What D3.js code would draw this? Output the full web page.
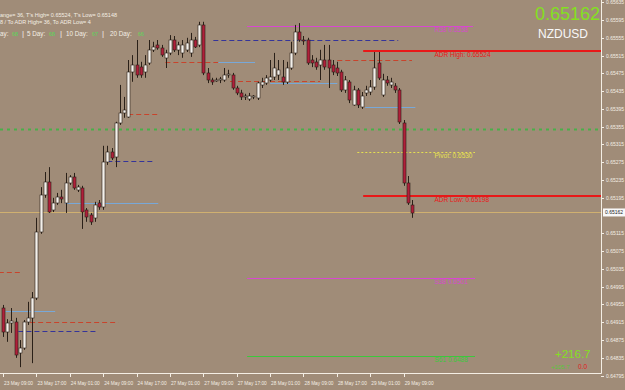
<!DOCTYPE html>
<meta charset="utf-8">
<style>
body { margin:0; background:#a08c78; overflow:hidden; }
svg text { font-family: "Liberation Sans", Arial, sans-serif; }
</style>
<body>
<svg width="625" height="390"></svg>
<script src="https://d3js.org/d3.v7.min.js"></script>
<script>

// hourly candles, 23 May 09:00 -> 29 May 11:00
var openP = [0.64947,0.64893,0.64913,0.64916,0.64846,0.64857,0.64916,0.64925,0.64970,0.65118,
 0.65201,0.65231,0.65168,0.65183,0.65197,0.65183,0.65228,0.65242,0.65213,0.65217,
 0.65168,0.65156,0.65150,0.65183,0.65174,0.65276,0.65298,0.65287,0.65363,0.65386,
 0.65377,0.65478,0.65494,0.65489,0.65478,0.65498,0.65528,0.65539,0.65532,0.65510,
 0.65521,0.65550,0.65528,0.65521,0.65528,0.65521,0.65550,0.65539,0.65584,0.65476,
 0.65460,0.65458,0.65460,0.65460,0.65471,0.65471,0.65442,0.65431,0.65422,0.65417,
 0.65422,0.65420,0.65449,0.65453,0.65460,0.65467,0.65471,0.65467,0.65456,0.65487,
 0.65521,0.65568,0.65550,0.65550,0.65505,0.65501,0.65494,0.65505,0.65505,0.65494,
 0.65487,0.65478,0.65438,0.65456,0.65404,0.65438,0.65399,0.65431,0.65433,0.65444,
 0.65498,0.65426,0.65460,0.65449,0.65447,0.65438,0.65363,0.65228,0.65179];
var highP = [0.64954,0.64922,0.64947,0.64925,0.64875,0.64920,0.64961,0.64983,0.65150,0.65219,
 0.65253,0.65264,0.65195,0.65206,0.65213,0.65251,0.65246,0.65251,0.65224,0.65222,
 0.65172,0.65161,0.65186,0.65190,0.65312,0.65312,0.65307,0.65366,0.65449,0.65422,
 0.65505,0.65516,0.65550,0.65501,0.65516,0.65550,0.65546,0.65550,0.65539,0.65528,
 0.65561,0.65559,0.65546,0.65550,0.65555,0.65566,0.65557,0.65591,0.65591,0.65487,
 0.65465,0.65465,0.65467,0.65487,0.65483,0.65476,0.65447,0.65438,0.65429,0.65431,
 0.65426,0.65456,0.65465,0.65471,0.65505,0.65521,0.65505,0.65505,0.65501,0.65546,
 0.65584,0.65588,0.65559,0.65555,0.65516,0.65510,0.65528,0.65539,0.65539,0.65505,
 0.65501,0.65483,0.65469,0.65460,0.65447,0.65442,0.65433,0.65447,0.65460,0.65523,
 0.65523,0.65474,0.65469,0.65465,0.65453,0.65442,0.65370,0.65244,0.65190];
var lowP = [0.64882,0.64871,0.64891,0.64835,0.64814,0.64853,0.64909,0.64823,0.64965,0.65114,
 0.65195,0.65161,0.65163,0.65179,0.65183,0.65161,0.65224,0.65213,0.65208,0.65125,
 0.65141,0.65134,0.65141,0.65168,0.65168,0.65269,0.65280,0.65264,0.65359,0.65375,
 0.65375,0.65456,0.65465,0.65465,0.65465,0.65494,0.65523,0.65528,0.65512,0.65487,
 0.65516,0.65523,0.65516,0.65510,0.65523,0.65512,0.65532,0.65534,0.65471,0.65453,
 0.65449,0.65456,0.65453,0.65456,0.65465,0.65438,0.65426,0.65415,0.65415,0.65413,
 0.65417,0.65415,0.65442,0.65449,0.65456,0.65460,0.65460,0.65449,0.65451,0.65483,
 0.65516,0.65546,0.65539,0.65494,0.65489,0.65483,0.65460,0.65483,0.65442,0.65471,
 0.65469,0.65433,0.65431,0.65408,0.65402,0.65397,0.65395,0.65424,0.65426,0.65438,
 0.65460,0.65422,0.65447,0.65442,0.65431,0.65361,0.65222,0.65179,0.65150];
var closeP = [0.64893,0.64913,0.64918,0.64841,0.64857,0.64916,0.64925,0.64970,0.65118,0.65201,
 0.65231,0.65163,0.65183,0.65197,0.65192,0.65228,0.65242,0.65217,0.65219,0.65163,
 0.65152,0.65141,0.65179,0.65174,0.65276,0.65298,0.65285,0.65363,0.65386,0.65393,
 0.65478,0.65494,0.65471,0.65471,0.65494,0.65528,0.65534,0.65532,0.65516,0.65521,
 0.65550,0.65528,0.65539,0.65539,0.65543,0.65550,0.65534,0.65584,0.65476,0.65460,
 0.65456,0.65460,0.65462,0.65471,0.65474,0.65442,0.65431,0.65422,0.65424,0.65424,
 0.65423,0.65453,0.65456,0.65465,0.65467,0.65487,0.65483,0.65456,0.65487,0.65521,
 0.65568,0.65550,0.65549,0.65498,0.65498,0.65489,0.65505,0.65489,0.65487,0.65478,
 0.65476,0.65438,0.65460,0.65415,0.65438,0.65404,0.65424,0.65438,0.65444,0.65487,
 0.65465,0.65460,0.65453,0.65456,0.65438,0.65366,0.65228,0.65183,0.65162];

var timeLabels = ["23 May 09:00","23 May 17:00","24 May 01:00","24 May 09:00","24 May 17:00",
 "27 May 01:00","27 May 09:00","27 May 17:00","28 May 01:00","28 May 09:00",
 "28 May 17:00","29 May 01:00","29 May 09:00"];
// 0.65155 sits under the bid box, so it is left out
var priceTicks = [0.65635,0.65595,0.65555,0.65515,0.65475,0.65435,0.65395,0.65355,0.65315,
 0.65275,0.65235,0.65195,0.65115,0.65075,0.65035,0.64995,0.64955,0.64915,
 0.64875,0.64835,0.64795];

// labelled levels (fib / pivot / ADR)
var levelNames = ["R38 0.6558","ADR High: 0.65524","Pivot: 0.6530","ADR Low: 0.65198","S38 0.6501","S61 0.6488"];
var levelPrices = [0.65582,0.65525,0.65297,0.65198,0.65015,0.64839];
var levelFrom = [58.5,86.3,84.9,86.3,58.5,58.5];
var levelTo = [112.6,144,113.1,144,113.1,113.1];
var levelKind = ["fib","adr","pivot","adr","fib","fib2"];

// older day levels drawn as short segments
var segPrices = [0.65550,0.65505,0.65501,0.65501,0.65458,0.65453,0.65399,0.65384,0.65278,0.65183,0.65028,0.64940,0.64916,0.64895];
var segFrom = [50.4,80.1,38.9,51.6,54.4,64,86.8,30,25,14.9,-1,0.6,6.5,3.7];
var segTo = [94.7,98,51.6,60.4,76,80.1,98.8,37.2,36,37.2,4.1,12.5,27.6,22.8];
var segKind = ["blue","red","red","light","red","light","light","red","blue","light","red","light","red","blue"];

var midLevel = 0.65350;
var bid = 0.65162;
var symbol = "NZDUSD";
var infoLine1 = "ange= 36, T's High= 0.65524, T's Low= 0.65148";
var infoLine2 = "8 / To ADR High= 36, To ADR Low= 4";
var rangeNames = ["ay:","5 Day:","10 Day:","20 Day:"];
var rangeValues = ["68","68","67","66"];
var profit = "+216.7";
var profit2 = "+105.7";
var loss = "0.0";

var svg = d3.select("svg"),
    plotW = 601,
    plotH = 373;

var x = d3.scaleLinear().domain([0, 98]).range([3, 412]);
var y = d3.scaleLinear().domain([0.6564, 0.64795]).range([0, 375.6]);

var kindColor = {red:"#c8442c", blue:"#34349a", light:"#78a8d8",
  fib:"#d848d0", fib2:"#3cc83c", adr:"#e81818", pivot:"#e6e050"};

svg.append("rect").attr("width",625).attr("height",390).attr("fill","#a08c78");

var plot = svg.append("g");
plot.append("clipPath").attr("id","clip")
  .append("rect").attr("width",plotW).attr("height",plotH);
var g = plot.append("g").attr("clip-path","url(#clip)");

// green dotted mid line
g.append("line")
  .attr("x1",0).attr("x2",plotW)
  .attr("y1",Math.round(y(midLevel))+0.5).attr("y2",Math.round(y(midLevel))+0.5)
  .style("stroke","#48b048").style("stroke-width",2).style("stroke-dasharray","3,4");

// bid line
g.append("line")
  .attr("x1",0).attr("x2",plotW)
  .attr("y1",Math.round(y(bid))+0.5).attr("y2",Math.round(y(bid))+0.5)
  .style("stroke","#d0b070").style("stroke-width",1);

// old segments
g.selectAll(".seg")
  .data(segPrices)
  .enter().append("line")
  .attr("class","seg")
  .attr("x1",function(d,i){return x(segFrom[i]);})
  .attr("x2",function(d,i){return x(segTo[i]);})
  .attr("y1",function(d){return Math.round(y(d))+0.5;})
  .attr("y2",function(d){return Math.round(y(d))+0.5;})
  .style("stroke",function(d,i){return kindColor[segKind[i]];})
  .style("stroke-width",1)
  .style("stroke-dasharray",function(d,i){return segKind[i]=="light" ? null : "5,3";});

// labelled levels
g.selectAll(".lvl")
  .data(levelPrices)
  .enter().append("line")
  .attr("class","lvl")
  .attr("x1",function(d,i){return x(levelFrom[i]);})
  .attr("x2",function(d,i){return x(levelTo[i]);})
  .attr("y1",function(d,i){return Math.round(y(d))+(levelKind[i]=="adr"?0:0.5);})
  .attr("y2",function(d,i){return Math.round(y(d))+(levelKind[i]=="adr"?0:0.5);})
  .style("stroke",function(d,i){return kindColor[levelKind[i]];})
  .style("stroke-width",function(d,i){return levelKind[i]=="adr"?2:1;})
  .style("stroke-dasharray",function(d,i){return levelKind[i]=="pivot"?"2,2":null;});

g.selectAll(".lvltxt")
  .data(levelNames)
  .enter().append("text")
  .attr("class","lvltxt")
  .attr("x",x(103.4))
  .attr("y",function(d,i){return y(levelPrices[i])+6;})
  .style("font-size","6.5px")
  .style("fill",function(d,i){return kindColor[levelKind[i]];})
  .text(function(d){return d;});

// candles
var idx = d3.range(openP.length);
g.selectAll(".wick")
  .data(idx)
  .enter().append("line")
  .attr("class","wick")
  .attr("x1",function(i){return Math.round(x(i))+0.5;})
  .attr("x2",function(i){return Math.round(x(i))+0.5;})
  .attr("y1",function(i){return y(highP[i]);})
  .attr("y2",function(i){return y(lowP[i]);})
  .style("stroke","#2a2018").style("stroke-width",1);

g.selectAll(".body")
  .data(idx)
  .enter().append("rect")
  .attr("class","body")
  .attr("x",function(i){return Math.round(x(i))-1;})
  .attr("width",3)
  .attr("y",function(i){return Math.round(y(Math.max(openP[i],closeP[i])));})
  .attr("height",function(i){return Math.max(1,Math.round(Math.abs(y(openP[i])-y(closeP[i]))));})
  .style("fill",function(i){return closeP[i]>=openP[i] ? "#f4f0ea" : "#b0203a";})
  .style("stroke","#2a2018").style("stroke-width",0.6);

// frame
svg.append("line").attr("x1",plotW+0.5).attr("x2",plotW+0.5).attr("y1",0).attr("y2",plotH+0.5)
  .style("stroke","#f4eee4");
svg.append("line").attr("x1",0).attr("x2",plotW+0.5).attr("y1",plotH+0.5).attr("y2",plotH+0.5)
  .style("stroke","#f4eee4");

// price axis
var py = svg.selectAll(".ptick").data(priceTicks).enter().append("g").attr("class","ptick");
py.append("line")
  .attr("x1",plotW).attr("x2",plotW+3)
  .attr("y1",function(d){return Math.round(y(d))+0.5;})
  .attr("y2",function(d){return Math.round(y(d))+0.5;})
  .style("stroke","#f4eee4");
py.append("text")
  .attr("x",plotW+5)
  .attr("y",function(d){return y(d)+2;})
  .attr("textLength",18).attr("lengthAdjust","spacingAndGlyphs")
  .style("font-size","5.5px").style("fill","#f4eee4")
  .text(function(d){return d.toFixed(5);});

// bid box
svg.append("rect").attr("x",plotW+2).attr("y",y(bid)-4).attr("width",22).attr("height",8).attr("fill","#f8f8f8");
svg.append("text").attr("x",plotW+4).attr("y",y(bid)+2)
  .attr("textLength",18).attr("lengthAdjust","spacingAndGlyphs")
  .style("font-size","5.5px").style("fill","#202020").text(bid.toFixed(5));

// time axis
var tx = svg.selectAll(".ttick").data(timeLabels).enter().append("g").attr("class","ttick");
tx.append("line")
  .attr("x1",function(d,i){return Math.round(x(i*8))+0.5;})
  .attr("x2",function(d,i){return Math.round(x(i*8))+0.5;})
  .attr("y1",plotH).attr("y2",plotH+4)
  .style("stroke","#f4eee4");
tx.append("text")
  .attr("x",function(d,i){return x(i*8)+1;})
  .attr("y",plotH+12)
  .attr("textLength",29).attr("lengthAdjust","spacingAndGlyphs")
  .style("font-size","5.5px").style("fill","#f4eee4")
  .text(function(d){return d;});

// info texts
svg.append("text").attr("x",0).attr("y",17).style("font-size","5.5px").style("fill","#f4eee4").text(infoLine1);
svg.append("text").attr("x",0).attr("y",24).style("font-size","5.5px").style("fill","#f4eee4").text(infoLine2);

var rangeX = [0,27,66,110];
var valX = [12,49,92,138];
svg.selectAll(".rname").data(rangeNames).enter().append("text")
  .attr("x",function(d,i){return rangeX[i];})
  .attr("y",36)
  .style("font-size","6.3px").style("fill","#f4eee4").text(function(d){return d;});
svg.selectAll(".rval").data(rangeValues).enter().append("text")
  .attr("x",function(d,i){return valX[i];})
  .attr("y",36)
  .attr("textLength",6).attr("lengthAdjust","spacingAndGlyphs")
  .style("font-size","6px").style("fill","#58d858").text(function(d){return d;});
svg.selectAll(".rsep").data([22,60,102]).enter().append("text")
  .attr("x",function(d){return d;}).attr("y",36)
  .style("font-size","8px").style("fill","#f4eee4").text("|");

svg.append("text").attr("x",600).attr("y",20).attr("text-anchor","end")
  .style("font-size","18px").style("fill","#84e020").text(closeP[closeP.length-1].toFixed(5));
svg.append("text").attr("x",538).attr("y",38)
  .style("font-size","12px").style("fill","#f8f8f8").text(symbol);

svg.append("text").attr("x",555).attr("y",358)
  .style("font-size","11.5px").style("fill","#84e020").text(profit);
svg.append("text").attr("x",551).attr("y",369)
  .style("font-size","6px").style("fill","#58c838").text(profit2);
svg.append("text").attr("x",578).attr("y",369)
  .style("font-size","6.5px").style("fill","#e02020").text(loss);

</script>
</body>
</html>
